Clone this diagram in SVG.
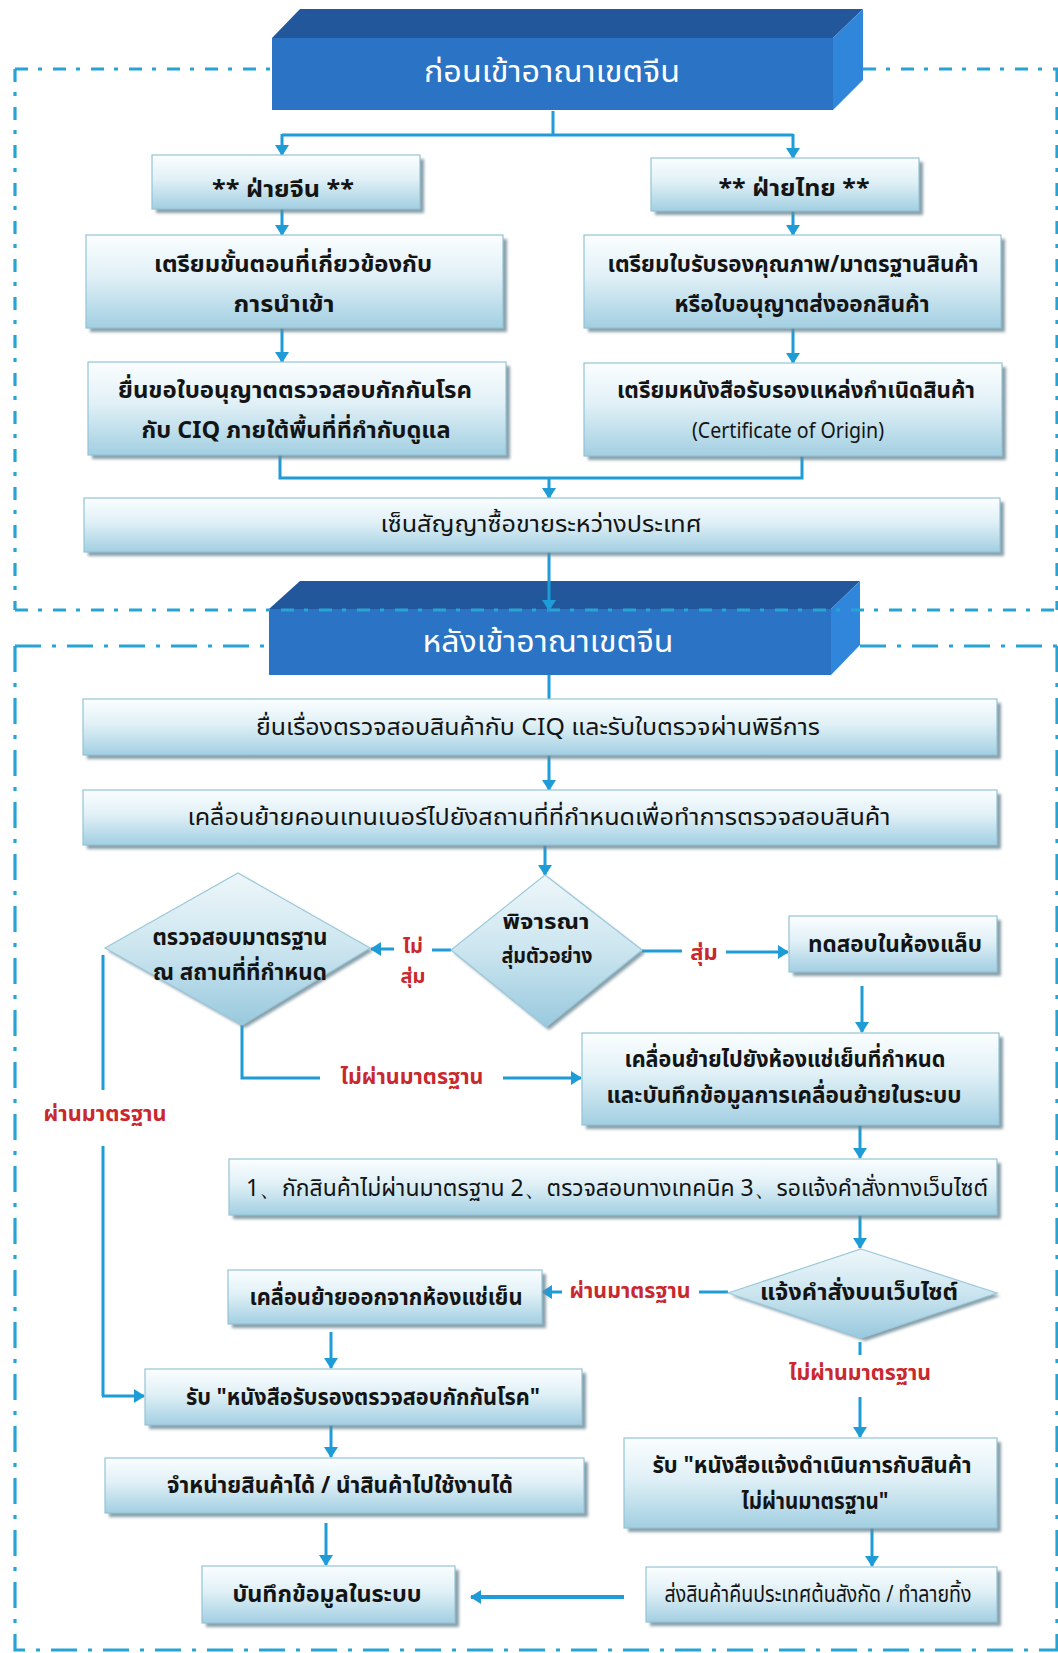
<svg xmlns="http://www.w3.org/2000/svg" width="1058" height="1653" viewBox="0 0 1058 1653">
<style>
.bx{fill:url(#gb);stroke:#93c4d6;stroke-width:1.2}
.sh{fill:#6a8794;opacity:.8;filter:url(#bl)}
.dm{fill:url(#gd);stroke:#9cc9da;stroke-width:1.2}
.t{font-family:"Noto Sans Thai","Noto Sans Thai UI","Loma","Garuda","Noto Sans","DejaVu Sans",sans-serif;font-size:23px;font-weight:bold;fill:#141414;text-anchor:middle}
.bt{font-family:"Noto Sans Thai","Noto Sans Thai UI","Loma","Garuda","Noto Sans","DejaVu Sans",sans-serif;font-size:31px;fill:#ffffff;text-anchor:middle}
.lb{font-family:"Noto Sans Thai","Noto Sans Thai UI","Loma","Garuda","Noto Sans","DejaVu Sans",sans-serif;font-size:22px;font-weight:bold;fill:#c9282e;text-anchor:middle}
.c{stroke:#1d9cd8;stroke-width:3;fill:none}
.ca{stroke:#1d9cd8;stroke-width:3;fill:none;marker-end:url(#ah)}
.d1{stroke:#27a4d4;stroke-width:3.2;fill:none;stroke-dasharray:13 10 4 11}
.d2{stroke:#27a4d4;stroke-width:3.2;fill:none;stroke-dasharray:26 11 4 11}
.ff{fill:#2a73c5}
.ft{fill:#22589b}
.fr{fill:#2f86da}
</style>
<defs>
<linearGradient id="gb" x1="0" y1="0" x2="0" y2="1">
<stop offset="0" stop-color="#fbfeff"/>
<stop offset="0.45" stop-color="#e0f0f6"/>
<stop offset="1" stop-color="#a2cfe2"/>
</linearGradient>
<linearGradient id="gd" x1="0" y1="0" x2="0" y2="1">
<stop offset="0" stop-color="#eef7fa"/>
<stop offset="0.5" stop-color="#cbe5ef"/>
<stop offset="1" stop-color="#98c9de"/>
</linearGradient>
<filter id="bl" x="-5%" y="-5%" width="110%" height="120%"><feGaussianBlur stdDeviation="1.5"/></filter>
<marker id="ah" viewBox="0 0 11 14" refX="10" refY="7" markerWidth="11" markerHeight="14" markerUnits="userSpaceOnUse" orient="auto"><path d="M0,0 L11,7 L0,14 z" fill="#1d9cd8"/></marker>
</defs>
<rect width="1058" height="1653" fill="#ffffff"/>

<g id="boundaries">
<path class="d1" d="M15,69 H272 M863,69 H1058 M15,69 V610 M1057,69 V610"/>
<path class="d2" d="M15,646 H269 M860,646 H1058 M15,646 V1650 H1058 M1057,646 V1650"/>
</g>

<g id="banner1">
<polygon class="ft" points="272,38 300,9 863,9 833,38"/>
<polygon class="fr" points="833,38 863,9 863,80 833,110"/>
<rect class="ff" x="272" y="38" width="561" height="72"/>
<text class="bt" x="552" y="82" textLength="256" lengthAdjust="spacingAndGlyphs">ก่อนเข้าอาณาเขตจีน</text>
</g>

<g id="banner2">
<polygon class="ft" points="269,609 300,581 860,581 831,609"/>
<polygon class="fr" points="831,609 860,581 860,645 831,675"/>
<rect class="ff" x="269" y="609" width="562" height="66"/>
<text class="bt" x="548" y="652" textLength="251" lengthAdjust="spacingAndGlyphs">หลังเข้าอาณาเขตจีน</text>
</g>

<path class="d1" d="M15,610 H1058"/>

<g id="connectors">
<path class="c" d="M553,111 V135 M282,135 H793"/>
<path class="ca" d="M282,134 V155"/>
<path class="ca" d="M793,134 V158"/>
<path class="ca" d="M282,209 V235"/>
<path class="ca" d="M793,211 V235"/>
<path class="ca" d="M282,328 V362"/>
<path class="ca" d="M793,328 V363"/>
<path class="c" d="M280,455 V478 H802 V456"/>
<path class="ca" d="M549,477 V498"/>
<path class="ca" d="M549,552 V610"/>
<path class="c" d="M549,675 V699"/>
<path class="ca" d="M549,755 V790"/>
<path class="ca" d="M545,845 V875"/>
<path class="c" d="M451,950 H432"/>
<path class="ca" d="M394,949 H371"/>
<path class="c" d="M642,951 H682"/>
<path class="ca" d="M726,952 H788"/>
<path class="ca" d="M862,986 V1032"/>
<path class="c" d="M242,1025 V1078 H320"/>
<path class="ca" d="M503,1078 H581"/>
<path class="c" d="M103,955 V1090"/>
<path class="c" d="M103,1146 V1396"/>
<path class="ca" d="M102,1396 H144"/>
<path class="ca" d="M860,1125 V1158"/>
<path class="ca" d="M860,1214 V1248"/>
<path class="c" d="M728,1292 H699"/>
<path class="ca" d="M562,1292 H542"/>
<path class="ca" d="M331,1332 V1368"/>
<path class="ca" d="M331,1425 V1457"/>
<path class="ca" d="M326,1523 V1565"/>
<path class="c" d="M860,1342 V1355"/>
<path class="ca" d="M860,1397 V1437"/>
<path class="ca" d="M872,1528 V1566"/>
<path class="c" d="M624,1597 H490" style="stroke-width:4"/>
<path class="ca" d="M495,1597 H471" style="stroke-width:4"/>
</g>

<g id="labels">
<text class="lb" x="413" y="953" style="font-size:20px">ไม่</text>
<text class="lb" x="413" y="983" style="font-size:20px">สุ่ม</text>
<text class="lb" x="704" y="960">สุ่ม</text>
<text class="lb" x="412" y="1084" textLength="143" lengthAdjust="spacingAndGlyphs">ไม่ผ่านมาตรฐาน</text>
<text class="lb" x="105" y="1121" textLength="123" lengthAdjust="spacingAndGlyphs">ผ่านมาตรฐาน</text>
<text class="lb" x="630" y="1298" textLength="121" lengthAdjust="spacingAndGlyphs">ผ่านมาตรฐาน</text>
<text class="lb" x="860" y="1380" textLength="142" lengthAdjust="spacingAndGlyphs">ไม่ผ่านมาตรฐาน</text>
</g>

<g id="n-china">
<rect class="sh" x="156" y="159" width="268" height="54"/>
<rect class="bx" x="152" y="155" width="268" height="54"/>
<text class="t" x="283" y="197" textLength="142" lengthAdjust="spacingAndGlyphs">** ฝ่ายจีน **</text>
</g>
<g id="n-thai">
<rect class="sh" x="655" y="162" width="268" height="53"/>
<rect class="bx" x="651" y="158" width="268" height="53"/>
<text class="t" x="794" y="196" textLength="151" lengthAdjust="spacingAndGlyphs">** ฝ่ายไทย **</text>
</g>
<g id="n-prep-import">
<rect class="sh" x="90" y="239" width="417" height="93"/>
<rect class="bx" x="86" y="235" width="417" height="93"/>
<text class="t" x="293" y="272" textLength="278" lengthAdjust="spacingAndGlyphs">เตรียมขั้นตอนที่เกี่ยวข้องกับ</text>
<text class="t" x="284" y="312" textLength="101" lengthAdjust="spacingAndGlyphs">การนำเข้า</text>
</g>
<g id="n-prep-cert">
<rect class="sh" x="588" y="239" width="417" height="93"/>
<rect class="bx" x="584" y="235" width="417" height="93"/>
<text class="t" x="793" y="272" textLength="371" lengthAdjust="spacingAndGlyphs">เตรียมใบรับรองคุณภาพ/มาตรฐานสินค้า</text>
<text class="t" x="802" y="312" textLength="255" lengthAdjust="spacingAndGlyphs">หรือใบอนุญาตส่งออกสินค้า</text>
</g>
<g id="n-apply">
<rect class="sh" x="92" y="366" width="418" height="93"/>
<rect class="bx" x="88" y="362" width="418" height="93"/>
<text class="t" x="295" y="398" textLength="354" lengthAdjust="spacingAndGlyphs">ยื่นขอใบอนุญาตตรวจสอบกักกันโรค</text>
<text class="t" x="296" y="438" textLength="309" lengthAdjust="spacingAndGlyphs">กับ CIQ ภายใต้พื้นที่ที่กำกับดูแล</text>
</g>
<g id="n-origin">
<rect class="sh" x="588" y="367" width="418" height="93"/>
<rect class="bx" x="584" y="363" width="418" height="93"/>
<text class="t" x="796" y="398" textLength="358" lengthAdjust="spacingAndGlyphs">เตรียมหนังสือรับรองแหล่งกำเนิดสินค้า</text>
<text class="t" x="788" y="438" textLength="192" lengthAdjust="spacingAndGlyphs" style="font-weight:normal;font-size:21px">(Certificate of Origin)</text>
</g>
<g id="n-contract">
<rect class="sh" x="88" y="502" width="916" height="54"/>
<rect class="bx" x="84" y="498" width="916" height="54"/>
<text class="t" x="541" y="532" textLength="321" lengthAdjust="spacingAndGlyphs" style="font-weight:normal">เซ็นสัญญาซื้อขายระหว่างประเทศ</text>
</g>
<g id="n-ciq">
<rect class="sh" x="87" y="703" width="914" height="56"/>
<rect class="bx" x="83" y="699" width="914" height="56"/>
<text class="t" x="538" y="735" textLength="564" lengthAdjust="spacingAndGlyphs" style="font-weight:normal">ยื่นเรื่องตรวจสอบสินค้ากับ CIQ และรับใบตรวจผ่านพิธีการ</text>
</g>
<g id="n-container">
<rect class="sh" x="87" y="794" width="914" height="55"/>
<rect class="bx" x="83" y="790" width="914" height="55"/>
<text class="t" x="539" y="825" textLength="703" lengthAdjust="spacingAndGlyphs" style="font-weight:normal">เคลื่อนย้ายคอนเทนเนอร์ไปยังสถานที่ที่กำหนดเพื่อทำการตรวจสอบสินค้า</text>
</g>
<g id="n-consider">
<polygon class="sh" points="548,878 645,953 549,1030 454,953"/>
<polygon class="dm" points="545,875 642,950 546,1027 451,950"/>
<text class="t" x="546" y="929" textLength="87" lengthAdjust="spacingAndGlyphs" style="font-size:21px">พิจารณา</text>
<text class="t" x="547" y="963" textLength="91" lengthAdjust="spacingAndGlyphs" style="font-size:21px">สุ่มตัวอย่าง</text>
</g>
<g id="n-check">
<polygon class="sh" points="241,876 373,951 245,1028 108,951"/>
<polygon class="dm" points="238,873 370,948 242,1025 105,948"/>
<text class="t" x="240" y="945" textLength="175" lengthAdjust="spacingAndGlyphs">ตรวจสอบมาตรฐาน</text>
<text class="t" x="240" y="980" textLength="174" lengthAdjust="spacingAndGlyphs">ณ สถานที่ที่กำหนด</text>
</g>
<g id="n-lab">
<rect class="sh" x="793" y="920" width="208" height="56"/>
<rect class="bx" x="789" y="916" width="208" height="56"/>
<text class="t" x="895" y="952" textLength="174" lengthAdjust="spacingAndGlyphs">ทดสอบในห้องแล็บ</text>
</g>
<g id="n-cold">
<rect class="sh" x="586" y="1037" width="417" height="92"/>
<rect class="bx" x="582" y="1033" width="417" height="92"/>
<text class="t" x="785" y="1067" textLength="321" lengthAdjust="spacingAndGlyphs">เคลื่อนย้ายไปยังห้องแช่เย็นที่กำหนด</text>
<text class="t" x="784" y="1103" textLength="355" lengthAdjust="spacingAndGlyphs">และบันทึกข้อมูลการเคลื่อนย้ายในระบบ</text>
</g>
<g id="n-hold">
<rect class="sh" x="233" y="1163" width="768" height="56"/>
<rect class="bx" x="229" y="1159" width="768" height="56"/>
<text class="t" x="617" y="1196" textLength="742" lengthAdjust="spacingAndGlyphs" style="font-weight:normal">1、กักสินค้าไม่ผ่านมาตรฐาน 2、ตรวจสอบทางเทคนิค   3、รอแจ้งคำสั่งทางเว็บไซต์</text>
</g>
<g id="n-notify">
<polygon class="sh" points="865,1252 1000,1296 865,1341 732,1296"/>
<polygon class="dm" points="861,1249 997,1293 861,1338 728,1293"/>
<text class="t" x="859" y="1300" textLength="198" lengthAdjust="spacingAndGlyphs">แจ้งคำสั่งบนเว็บไซต์</text>
</g>
<g id="n-moveout">
<rect class="sh" x="232" y="1274" width="314" height="54"/>
<rect class="bx" x="228" y="1270" width="314" height="54"/>
<text class="t" x="386" y="1305" textLength="273" lengthAdjust="spacingAndGlyphs">เคลื่อนย้ายออกจากห้องแช่เย็น</text>
</g>
<g id="n-receive-cert">
<rect class="sh" x="149" y="1373" width="437" height="56"/>
<rect class="bx" x="145" y="1369" width="437" height="56"/>
<text class="t" x="363" y="1405" textLength="354" lengthAdjust="spacingAndGlyphs">รับ "หนังสือรับรองตรวจสอบกักกันโรค"</text>
</g>
<g id="n-sell">
<rect class="sh" x="109" y="1462" width="479" height="55"/>
<rect class="bx" x="105" y="1458" width="479" height="55"/>
<text class="t" x="340" y="1493" textLength="346" lengthAdjust="spacingAndGlyphs">จำหน่ายสินค้าได้ / นำสินค้าไปใช้งานได้</text>
</g>
<g id="n-record">
<rect class="sh" x="206" y="1570" width="253" height="57"/>
<rect class="bx" x="202" y="1566" width="253" height="57"/>
<text class="t" x="327" y="1602" textLength="189" lengthAdjust="spacingAndGlyphs">บันทึกข้อมูลในระบบ</text>
</g>
<g id="n-notice">
<rect class="sh" x="628" y="1442" width="373" height="90"/>
<rect class="bx" x="624" y="1438" width="373" height="90"/>
<text class="t" x="812" y="1473" textLength="319" lengthAdjust="spacingAndGlyphs">รับ "หนังสือแจ้งดำเนินการกับสินค้า</text>
<text class="t" x="815" y="1509" textLength="147" lengthAdjust="spacingAndGlyphs">ไม่ผ่านมาตรฐาน"</text>
</g>
<g id="n-return">
<rect class="sh" x="650" y="1571" width="351" height="55"/>
<rect class="bx" x="646" y="1567" width="351" height="55"/>
<text class="t" x="818" y="1602" textLength="307" lengthAdjust="spacingAndGlyphs" style="font-weight:normal">ส่งสินค้าคืนประเทศต้นสังกัด / ทำลายทิ้ง</text>
</g>
</svg>
